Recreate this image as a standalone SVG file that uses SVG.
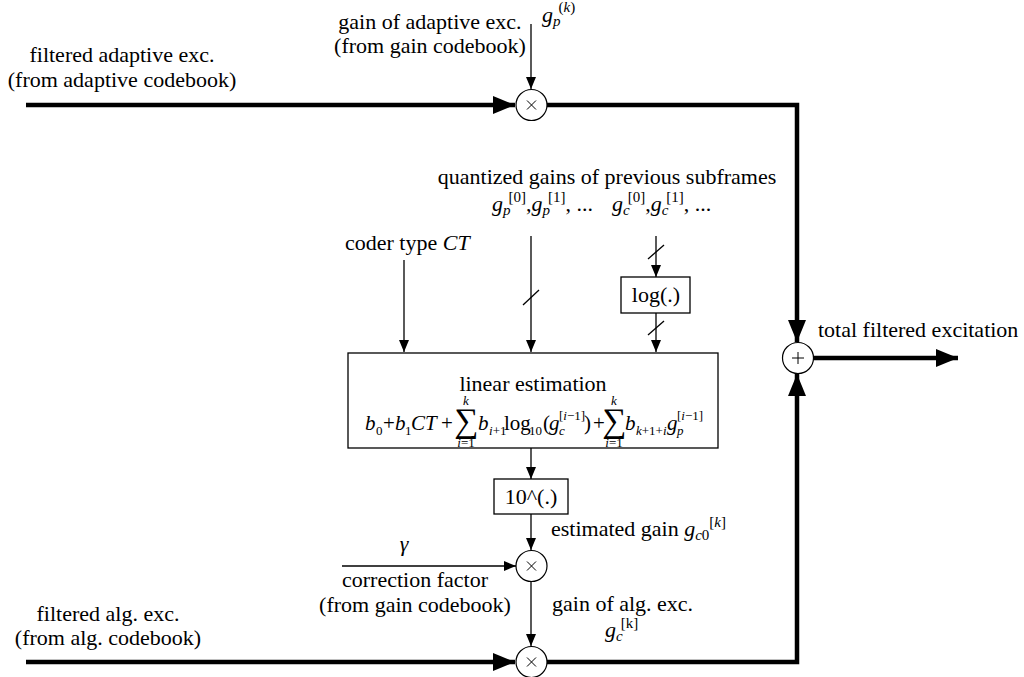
<svg xmlns="http://www.w3.org/2000/svg" width="1024" height="677" viewBox="0 0 1024 677" font-family="'Liberation Serif', 'Times New Roman', serif" font-size="22">
<defs>
<style>
text{font-family:"Liberation Serif","Times New Roman",serif;fill:#000}
.i{font-style:italic}
.n{font-style:normal}
.s{font-size:15px}
.f{font-size:21px}
.fs{font-size:13px}
.sig{font-size:34px}
.thick{stroke:#000;stroke-width:4.5;fill:none}
.thin{stroke:#000;stroke-width:1.3;fill:none}
.box{stroke:#000;stroke-width:1.3;fill:#fff}
.op{stroke:#000;stroke-width:1.2;fill:#fff}
.sym{stroke:#000;stroke-width:1;fill:none}
</style>
<marker id="ah" markerUnits="userSpaceOnUse" viewBox="0 0 22 18" refX="22" refY="9" markerWidth="22" markerHeight="18" orient="auto"><path d="M0,0 L22,9 L0,18 Z" fill="#000"/></marker>
<marker id="at" markerUnits="userSpaceOnUse" viewBox="0 0 12 10" refX="12" refY="5" markerWidth="12" markerHeight="10" orient="auto"><path d="M0,0 L12,5 L0,10 Z" fill="#000"/></marker>
</defs>
<rect width="1024" height="677" fill="#fff"/>

<g id="connectors">
<path class="thick" d="M26,105 H515" marker-end="url(#ah)"/>
<path class="thick" d="M547,105 H797 V342" stroke-linejoin="miter" marker-end="url(#ah)"/>
<path class="thick" d="M26,662 H515" marker-end="url(#ah)"/>
<path class="thick" d="M547,662 H797 V374" stroke-linejoin="miter" marker-end="url(#ah)"/>
<path class="thick" d="M814,358 H958" marker-end="url(#ah)"/>
<path class="thin" d="M531,24 V89" marker-end="url(#at)"/>
<path class="thin" d="M404,260 V352" marker-end="url(#at)"/>
<path class="thin" d="M531,236 V352" marker-end="url(#at)"/>
<line class="thin" x1="523" y1="305" x2="539" y2="290"/>
<path class="thin" d="M656,236 V277" marker-end="url(#at)"/>
<line class="thin" x1="648" y1="259" x2="664" y2="245"/>
<path class="thin" d="M656,313 V352" marker-end="url(#at)"/>
<line class="thin" x1="648" y1="335" x2="664" y2="321"/>
<path class="thin" d="M531,448 V479" marker-end="url(#at)"/>
<path class="thin" d="M531,514 V550" marker-end="url(#at)"/>
<path class="thin" d="M342,566 H516" marker-end="url(#at)"/>
<path class="thin" d="M531,581 V646" marker-end="url(#at)"/>
</g>

<g id="mul-top">
<circle class="op" cx="531.5" cy="105" r="15.5"/>
<path class="sym" d="M527,100.5 L536,109.5 M536,100.5 L527,109.5"/>
</g>
<g id="sum">
<circle class="op" cx="798" cy="358" r="15.5"/>
<path class="sym" d="M792,358 H804 M798,352 V364"/>
</g>
<g id="mul-mid">
<circle class="op" cx="531.5" cy="566" r="15.5"/>
<path class="sym" d="M527,561.5 L536,570.5 M536,561.5 L527,570.5"/>
</g>
<g id="mul-bot">
<circle class="op" cx="531.5" cy="662" r="15.5"/>
<path class="sym" d="M527,657.5 L536,666.5 M536,657.5 L527,666.5"/>
</g>

<g id="log-box">
<rect class="box" x="621" y="277" width="69" height="36"/>
<text x="656" y="302" text-anchor="middle">log(.)</text>
</g>
<g id="lin-est">
<rect class="box" x="348" y="353" width="370" height="95"/>
<text x="533" y="391" text-anchor="middle">linear estimation</text>
<text class="f i" x="365" y="430">b</text>
<text class="fs" x="376" y="435">0</text>
<text class="f" x="383" y="430">+</text>
<text class="f i" x="395" y="430">b</text>
<text class="fs" x="405" y="435">1</text>
<text class="f i" x="411" y="430">CT</text>
<text class="f" x="441" y="430">+</text>
<text class="sig" x="466" y="432" text-anchor="middle">∑</text>
<text class="i fs" x="466" y="405" text-anchor="middle">k</text>
<text class="fs" x="466" y="447" text-anchor="middle"><tspan class="i">i</tspan>=1</text>
<text class="f i" x="478" y="430">b</text>
<text class="fs" x="489" y="435"><tspan class="i">i</tspan>+1</text>
<text class="f" x="504" y="430">log</text>
<text class="fs" x="529" y="435">10</text>
<text class="f" x="543" y="430">(</text>
<text class="f i" x="549" y="430">g</text>
<text class="fs i" x="559" y="435">c</text>
<text class="fs" x="559" y="420">[<tspan class="i">i</tspan>−1]</text>
<text class="f" x="584" y="430">)</text>
<text class="f" x="593" y="430">+</text>
<text class="sig" x="614" y="432" text-anchor="middle">∑</text>
<text class="i fs" x="614" y="405" text-anchor="middle">k</text>
<text class="fs" x="614" y="447" text-anchor="middle"><tspan class="i">i</tspan>=1</text>
<text class="f i" x="625" y="430">b</text>
<text class="fs" x="636" y="435"><tspan class="i">k</tspan>+1+<tspan class="i">i</tspan></text>
<text class="f i" x="667" y="430">g</text>
<text class="fs i" x="677" y="435">p</text>
<text class="fs" x="677" y="420">[<tspan class="i">i</tspan>−1]</text>
</g>
<g id="pow-box">
<rect class="box" x="494" y="479" width="74" height="35"/>
<text x="531" y="504" text-anchor="middle">10^(.)</text>
</g>

<g id="labels">
<text x="122" y="62" text-anchor="middle">filtered adaptive exc.</text>
<text x="122" y="87" text-anchor="middle">(from adaptive codebook)</text>
<text x="430" y="29" text-anchor="middle">gain of adaptive exc.</text>
<text x="430" y="53" text-anchor="middle">(from gain codebook)</text>
<text class="i" x="542" y="22">g<tspan class="s" dy="4">p</tspan><tspan class="s n" dy="-14" dx="-2">(</tspan><tspan class="s">k</tspan><tspan class="s n">)</tspan></text>
<text x="607" y="184" text-anchor="middle">quantized gains of previous subframes</text>
<text class="i" x="492" y="211">g<tspan class="s" dy="4">p</tspan><tspan class="s n" dy="-13" dx="-2">[0]</tspan><tspan class="n" dy="9">,</tspan>g<tspan class="s" dy="4">p</tspan><tspan class="s n" dy="-13" dx="-2">[1]</tspan><tspan class="n" dy="9">, ...</tspan></text>
<text class="i" x="612" y="211">g<tspan class="s" dy="4">c</tspan><tspan class="s n" dy="-13" dx="-2">[0]</tspan><tspan class="n" dy="9">,</tspan>g<tspan class="s" dy="4">c</tspan><tspan class="s n" dy="-13" dx="-2">[1]</tspan><tspan class="n" dy="9">, ...</tspan></text>
<text x="345" y="250">coder type <tspan class="i">CT</tspan></text>
<text x="551" y="536">estimated gain <tspan class="i">g</tspan><tspan class="s i" dy="4">c</tspan><tspan class="s">0</tspan><tspan class="s" dy="-13">[</tspan><tspan class="s i">k</tspan><tspan class="s">]</tspan></text>
<text class="i" x="404" y="551" text-anchor="middle">γ</text>
<text x="415" y="587" text-anchor="middle">correction factor</text>
<text x="415" y="612" text-anchor="middle">(from gain codebook)</text>
<text x="552" y="611">gain of alg. exc.</text>
<text class="i" x="605" y="637">g<tspan class="s" dy="4">c</tspan><tspan class="s n" dy="-13" dx="-2">[k]</tspan></text>
<text x="108" y="621" text-anchor="middle">filtered alg. exc.</text>
<text x="108" y="645" text-anchor="middle">(from alg. codebook)</text>
<text x="818" y="337">total filtered excitation</text>
</g>
</svg>
